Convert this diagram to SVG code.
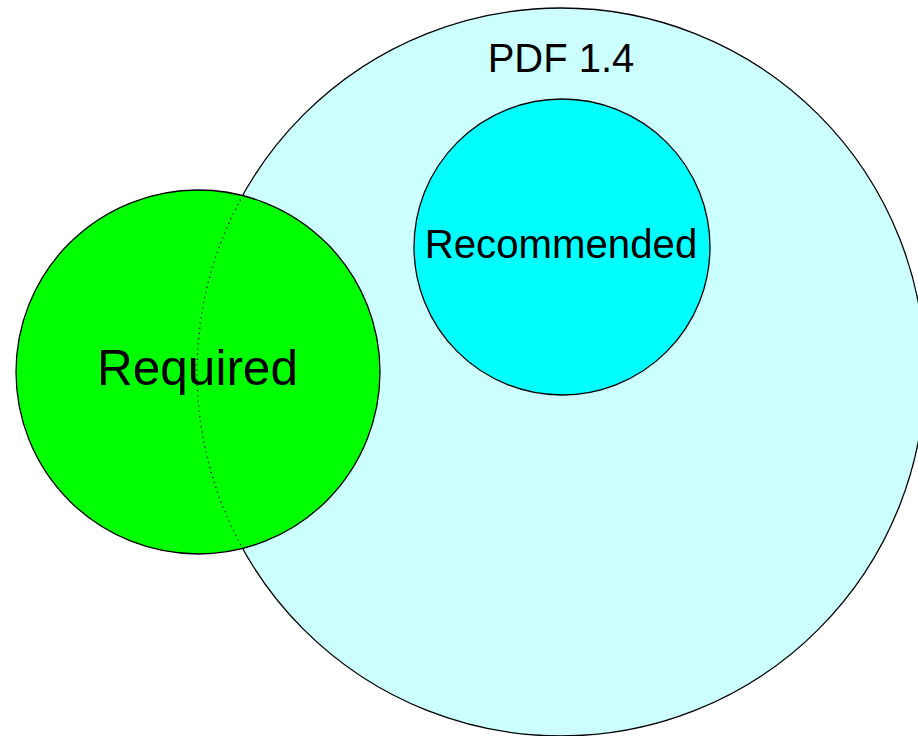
<svg xmlns="http://www.w3.org/2000/svg" width="918" height="736" viewBox="0 0 918 736">
  <style>
    .set { stroke: #000; stroke-width: 1.3; }
    .label { font-family: "Liberation Sans", Arial, sans-serif; fill: #000; text-anchor: middle; }
    .hidden-edge { fill: none; stroke: #000; stroke-width: 1.3; stroke-dasharray: 1.2 4; }
  </style>
  <rect width="918" height="736" fill="#fff"/>

  <g id="pdf14">
    <circle class="set" cx="561" cy="372" r="364" fill="#ccffff"/>
    <text class="label" x="561" y="72" font-size="40">PDF 1.4</text>
  </g>

  <g id="recommended">
    <circle class="set" cx="562" cy="247" r="148" fill="#00ffff"/>
    <text class="label" x="561" y="258" font-size="40.2">Recommended</text>
  </g>

  <g id="required">
    <circle class="set" cx="198" cy="372" r="182" fill="#00ff00"/>
    <text class="label" x="197.5" y="385" font-size="49.5">Required</text>
  </g>

  <g id="connectors">
    <!-- part of the PDF 1.4 boundary lying under the Required set -->
    <path class="hidden-edge" d="M243,195 A364,364 0 0 0 243,549"/>
  </g>
</svg>
